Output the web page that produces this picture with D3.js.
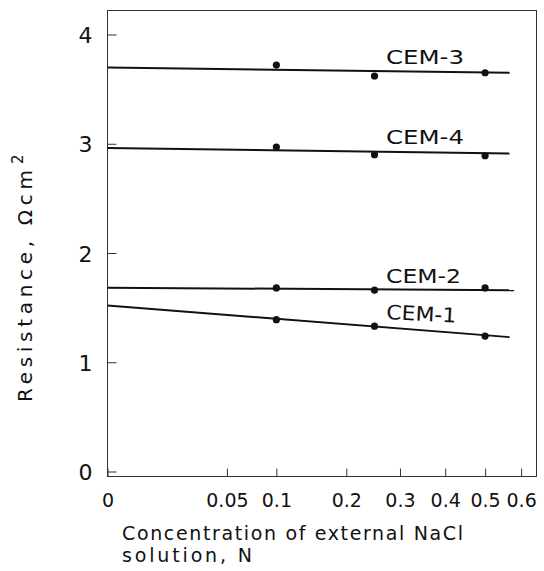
<!DOCTYPE html>
<html>
<head>
<meta charset="utf-8">
<script src="https://cdn.jsdelivr.net/npm/d3@7"></script>
<style>
  body { margin: 0; background: #fff; }
  text { font-family: "DejaVu Sans", sans-serif; fill: #111; }
</style>
</head>
<body>
<div class="chart"></div>
<script>
// values
var conc = [0.1, 0.25, 0.5];
var cem1 = [1.39, 1.33, 1.24];
var cem2 = [1.68, 1.66, 1.68];
var cem3 = [3.72, 3.62, 3.65];
var cem4 = [2.97, 2.90, 2.89];

// straight fitted lines, start and end
var fitConc = [0, 0.567];
var fitConc2 = [0, 0.58];
var cem1Fit = [1.52, 1.23];
var cem2Fit = [1.683, 1.658];
var cem3Fit = [3.697, 3.650];
var cem4Fit = [2.962, 2.910];

var xTicks = [0, 0.05, 0.1, 0.2, 0.3, 0.4, 0.5, 0.6];
var xTickLabels = ["0", "0.05", "0.1", "0.2", "0.3", "0.4", "0.5", "0.6"];
var yTicks = [0, 1, 2, 3, 4];

var svgWidth = 544;
var svgHeight = 571;

var frame = { left: 107.5, right: 536.5, top: 10.5, bottom: 476.5 };

var svg = d3.select(".chart")
    .append("svg")
    .attr("width", svgWidth)
    .attr("height", svgHeight);

// x axis is square-root of concentration
var x = d3.scaleSqrt()
    .domain([0, 0.6])
    .range([107.5, 107.5 + 534 * Math.sqrt(0.6)]);

var y = d3.scaleLinear()
    .domain([0, 4])
    .range([471.5, 34.5]);

// frame
svg.append("rect")
    .attr("x", frame.left)
    .attr("y", frame.top)
    .attr("width", frame.right - frame.left)
    .attr("height", frame.bottom - frame.top)
    .attr("fill", "none")
    .attr("stroke", "#333")
    .attr("stroke-width", 1);

// y axis
var yAxis = svg.append("g")
    .attr("transform", `translate(${frame.left}, 0)`)
    .call(d3.axisLeft(y).tickValues(yTicks).tickSizeInner(-9).tickSizeOuter(0).tickFormat(d3.format("d")));
yAxis.select(".domain").remove();
yAxis.selectAll("line").attr("stroke", "#333");
yAxis.selectAll("text")
    .attr("x", -22)
    .attr("dy", "0")
    .attr("y", 8)
    .attr("text-anchor", "middle")
    .style("font-size", "22px")
    .style("font-family", "DejaVu Sans, sans-serif")
    .attr("fill", "#111");

// x axis
var xAxis = svg.append("g")
    .attr("transform", `translate(0, ${frame.bottom})`)
    .call(d3.axisBottom(x).tickValues(xTicks).tickSizeInner(-8).tickSizeOuter(0)
        .tickFormat((d, i) => xTickLabels[i]));
xAxis.select(".domain").remove();
xAxis.selectAll("line").attr("stroke", "#333");
xAxis.selectAll("text")
    .attr("y", 30)
    .attr("dy", "0")
    .style("font-size", "19px")
    .style("font-family", "DejaVu Sans, sans-serif")
    .attr("fill", "#111");

// fitted lines
var series = [
    { name: "CEM-1", pts: cem1, fit: cem1Fit, fx: fitConc },
    { name: "CEM-2", pts: cem2, fit: cem2Fit, fx: fitConc2 },
    { name: "CEM-3", pts: cem3, fit: cem3Fit, fx: fitConc },
    { name: "CEM-4", pts: cem4, fit: cem4Fit, fx: fitConc }
];

var line = d3.line()
    .x(d => x(d[0]))
    .y(d => y(d[1]));

series.forEach(function(s) {
    svg.append("path")
        .datum(s.fx.map((c, i) => [c, s.fit[i]]))
        .attr("d", line)
        .attr("fill", "none")
        .attr("stroke", "#111")
        .attr("stroke-width", 2);

    svg.selectAll(null)
        .data(conc.map((c, i) => [c, s.pts[i]]))
        .enter()
        .append("circle")
        .attr("cx", d => x(d[0]))
        .attr("cy", d => y(d[1]))
        .attr("r", 3.6)
        .attr("fill", "#111");
});

// curve labels
var labels = [
    { text: "CEM-3", at: 0.272, v: 3.69, len: 78, rot: 0 },
    { text: "CEM-4", at: 0.272, v: 2.96, len: 78, rot: 0 },
    { text: "CEM-2", at: 0.272, v: 1.69, len: 75, rot: 0 },
    { text: "CEM-1", at: 0.272, v: 1.36, len: 70, rot: 3 }
];
labels.forEach(function(l) {
    var lx = x(l.at), ly = y(l.v) - 4;
    svg.append("text")
        .attr("x", lx)
        .attr("y", ly)
        .attr("textLength", l.len)
        .attr("lengthAdjust", "spacingAndGlyphs")
        .attr("transform", `rotate(${l.rot}, ${lx}, ${ly})`)
        .style("font-size", "20px")
        .text(l.text);
});

// axis titles
svg.append("text")
    .attr("x", 122)
    .attr("y", 540)
    .attr("textLength", 341)
    .attr("lengthAdjust", "spacing")
    .style("font-size", "19px")
    .text("Concentration of external NaCl");

svg.append("text")
    .attr("x", 122)
    .attr("y", 562)
    .attr("textLength", 130)
    .attr("lengthAdjust", "spacing")
    .style("font-size", "19px")
    .text("solution, N");

svg.append("text")
    .attr("transform", "translate(32, 402) rotate(-90)")
    .attr("textLength", 232)
    .attr("lengthAdjust", "spacing")
    .style("font-size", "20px")
    .text("Resistance,  \u03a9cm");

svg.append("text")
    .attr("transform", "translate(23, 164) rotate(-90)")
    .style("font-size", "15px")
    .text("2");
</script>
</body>
</html>
